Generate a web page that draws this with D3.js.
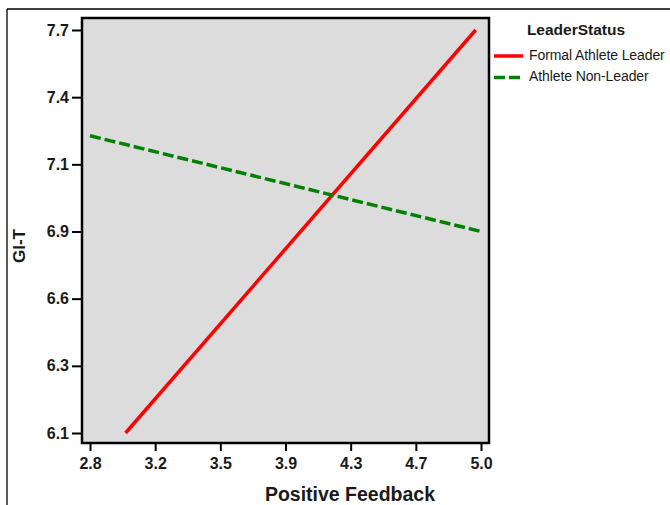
<!DOCTYPE html>
<html>
<head>
<meta charset="utf-8">
<script src="https://cdn.jsdelivr.net/npm/d3@7"></script>
<style>
  body { margin: 0; background: #fff; }
  svg { display: block; font-family: "Liberation Sans", Arial, sans-serif; }
</style>
</head>
<body>
<svg id="chart" width="670" height="505"></svg>
<script>
// ---- data ----
const seriesNames = ["Formal Athlete Leader", "Athlete Non-Leader"];
const seriesColors = ["#ff0000", "#008000"];
const leaderX = [3.0, 4.97];
const leaderY = [6.1, 7.7];
const nonLeaderX = [2.8, 5.0];
const nonLeaderY = [7.28, 6.90];
const xTickLabels = ["2.8", "3.2", "3.5", "3.9", "4.3", "4.7", "5.0"];
const yTickLabels = ["6.1", "6.3", "6.6", "6.9", "7.1", "7.4", "7.7"];
const xMin = 2.8, xMax = 5.0;
const yMin = 6.1, yMax = 7.7;
const xTitle = "Positive Feedback";
const yTitle = "GI-T";
const legendTitle = "LeaderStatus";

// ---- layout ----
const svg = d3.select("#chart");
const plot = { left: 82, right: 489, top: 18, bottom: 443 };
const txt = "#1a1a1a";

// outer frame lines
svg.append("line").attr("x1", 7).attr("x2", 670).attr("y1", 9).attr("y2", 9)
  .attr("stroke", "#000").attr("stroke-width", 1.3);
svg.append("line").attr("x1", 7).attr("x2", 7).attr("y1", 9).attr("y2", 505)
  .attr("stroke", "#000").attr("stroke-width", 1.3);

const x = d3.scaleLinear().domain([xMin, xMax]).range([90, 481]);
const y = d3.scaleLinear().domain([yMin, yMax]).range([433, 30]);

const xTickVals = d3.range(xTickLabels.length).map(i => xMin + i * (xMax - xMin) / (xTickLabels.length - 1));
const yTickVals = d3.range(yTickLabels.length).map(i => yMin + i * (yMax - yMin) / (yTickLabels.length - 1));

// plot background
svg.append("rect")
  .attr("x", plot.left).attr("y", plot.top)
  .attr("width", plot.right - plot.left).attr("height", plot.bottom - plot.top)
  .attr("fill", "#dcdcdc");

// series lines
const lineGen = d3.line().x(d => x(d[0])).y(d => y(d[1]));
const series = [
  { name: seriesNames[0], color: seriesColors[0], pts: d3.zip(leaderX, leaderY), dash: null, width: 3.5 },
  { name: seriesNames[1], color: seriesColors[1], pts: d3.zip(nonLeaderX, nonLeaderY), dash: "11,4", width: 3.5 }
];
series.forEach(s => {
  svg.append("path").attr("d", lineGen(s.pts))
    .attr("fill", "none").attr("stroke", s.color)
    .attr("stroke-width", s.width)
    .attr("stroke-dasharray", s.dash);
});

// plot border
svg.append("rect")
  .attr("x", plot.left).attr("y", plot.top)
  .attr("width", plot.right - plot.left).attr("height", plot.bottom - plot.top)
  .attr("fill", "none").attr("stroke", "#000").attr("stroke-width", 2.5);

// x axis
const xAxis = d3.axisBottom(x).tickValues(xTickVals)
  .tickFormat((d, i) => xTickLabels[i]).tickSize(7).tickSizeOuter(0).tickPadding(7);
const gx = svg.append("g").attr("transform", `translate(0,${plot.bottom + 1})`).call(xAxis);
gx.select(".domain").remove();
gx.selectAll(".tick line").attr("stroke", "#000").attr("stroke-width", 2);
gx.selectAll(".tick text").attr("fill", txt).attr("font-size", 16)
  .attr("font-weight", "bold").attr("font-family", "Liberation Sans, Arial, sans-serif");

// y axis
const yAxis = d3.axisLeft(y).tickValues(yTickVals)
  .tickFormat((d, i) => yTickLabels[i]).tickSize(9).tickSizeOuter(0).tickPadding(3);
const gy = svg.append("g").attr("transform", `translate(${plot.left - 1},0)`).call(yAxis);
gy.select(".domain").remove();
gy.selectAll(".tick line").attr("stroke", "#000").attr("stroke-width", 2);
gy.selectAll(".tick text").attr("fill", txt).attr("font-size", 16)
  .attr("font-weight", "bold").attr("font-family", "Liberation Sans, Arial, sans-serif");

// axis titles
svg.append("text").attr("x", 350).attr("y", 501)
  .attr("text-anchor", "middle").attr("font-size", 19.5).attr("font-weight", "bold")
  .attr("fill", txt).text(xTitle);
svg.append("text").attr("transform", "translate(24.5,246) rotate(-90)")
  .attr("text-anchor", "middle").attr("font-size", 17).attr("font-weight", "bold")
  .attr("fill", txt).text(yTitle);

// legend
const lg = svg.append("g");
lg.append("text").attr("x", 576).attr("y", 35).attr("text-anchor", "middle")
  .attr("font-size", 15.5).attr("font-weight", "bold").attr("fill", txt)
  .text(legendTitle);
series.forEach((s, i) => {
  const yy = 56 + i * 21.5;
  lg.append("line").attr("x1", 494).attr("x2", s.dash ? 521 : 523).attr("y1", yy).attr("y2", yy)
    .attr("stroke", s.color).attr("stroke-width", 3.5).attr("stroke-dasharray", s.dash ? "11,4" : null);
  lg.append("text").attr("x", 529).attr("y", yy + 3.5)
    .attr("font-size", 14).attr("fill", txt).attr("letter-spacing", -0.1)
    .text(s.name);
});
</script>
</body>
</html>
